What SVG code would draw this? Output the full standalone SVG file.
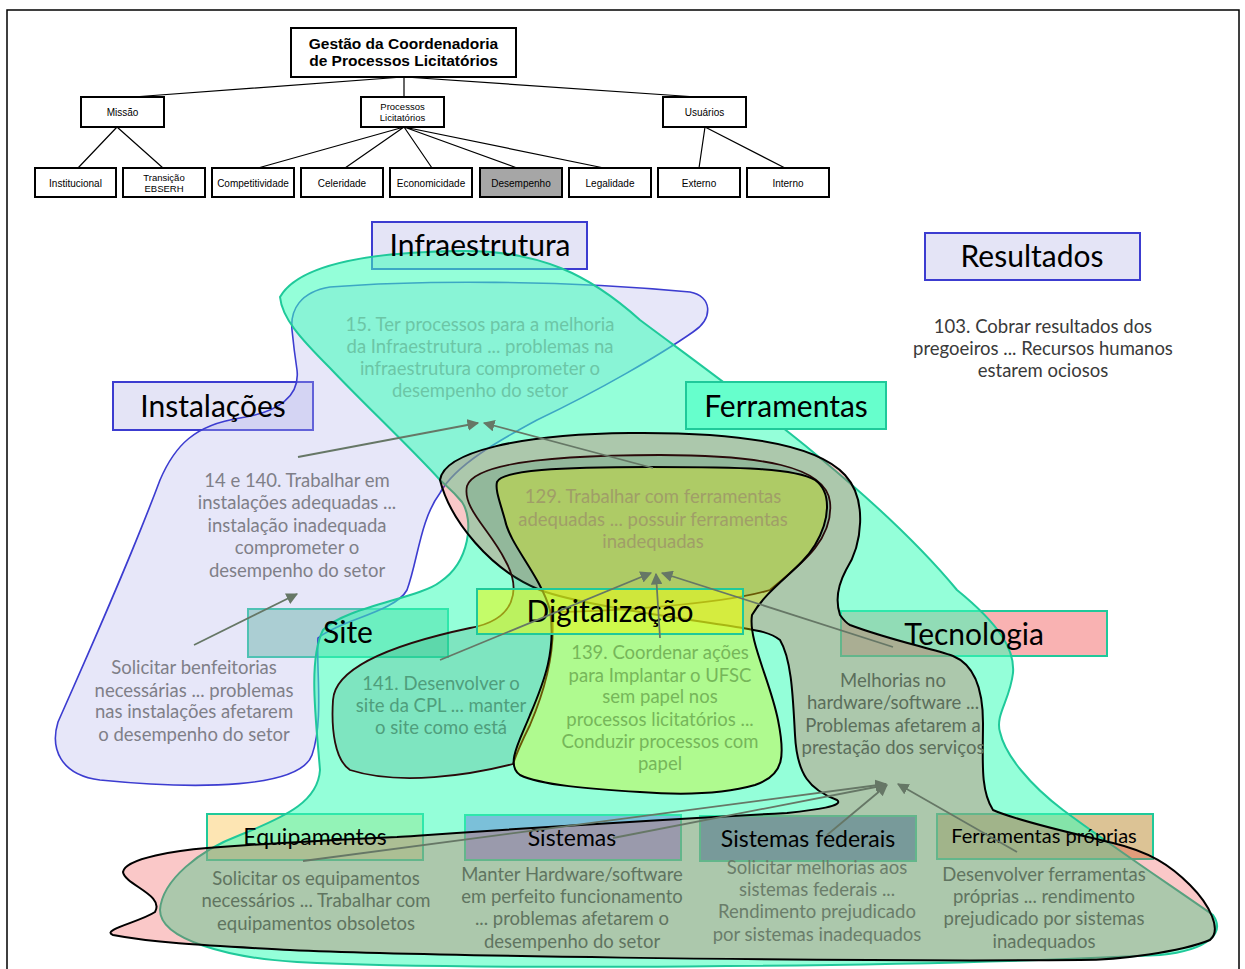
<svg xmlns="http://www.w3.org/2000/svg" width="1245" height="969" viewBox="0 0 1245 969">
<defs>
<style>
.frame{fill:none;stroke:#000;stroke-width:1.5}
.hb{fill:#fff;stroke:#000;stroke-width:2}
.hb.grey{fill:#a6a6a6}
.hl{stroke:#000;stroke-width:1.2;fill:none}
.ht{font-family:"Liberation Sans",Arial,sans-serif;font-size:10px;fill:#000;text-anchor:middle}
.ht2{font-family:"Liberation Sans",Arial,sans-serif;font-size:9.5px;fill:#000;text-anchor:middle}
.root{font-family:"Liberation Sans",Arial,sans-serif;font-size:15.5px;font-weight:bold;fill:#000;text-anchor:middle}
.lav{fill:#e4e4f6;stroke:#3c3cd0;stroke-width:2}
.tealbox{stroke:#1fc99a;stroke-width:2}
.lbl{font-family:Lato,"Open Sans",sans-serif;font-size:30px;fill:#000;text-anchor:middle}
.lbl2{font-family:Lato,"Open Sans",sans-serif;font-size:23px;fill:#000;text-anchor:middle}
.desc{font-family:Lato,"Open Sans",sans-serif;font-size:18.5px;text-anchor:middle}
.arr{stroke:#667766;stroke-width:1.8;fill:none;marker-end:url(#ah)}
</style>
<marker id="ah" viewBox="0 0 10 10" refX="9" refY="5" markerWidth="6.5" markerHeight="6.5" orient="auto">
<path d="M0,0 L10,5 L0,10 Z" fill="#667766"/>
</marker>
</defs>
<rect width="1245" height="969" fill="#fff"/>
<rect class="frame" x="7" y="10" width="1232" height="975"/>

<g id="hierarchy">
<g id="h-lines">
<path class="hl" d="M403,77 L133,97 M404,77 L404,97 M405,77 L697,97"/>
<path class="hl" d="M117,127 L78,168 M117,127 L163,168"/>
<path class="hl" d="M404,127 L258,168 M404,127 L345,168 M404,127 L432,168 M404,127 L517,168 M404,127 L604,168"/>
<path class="hl" d="M705,127 L699,168 M705,127 L785,168"/>
</g>
<g id="h-root"><rect class="hb" x="291" y="28" width="225" height="49"/><text class="root" x="403.5" y="49">Gestão da Coordenadoria</text><text class="root" x="403.5" y="66">de Processos Licitatórios</text></g>
<g id="h-missao"><rect class="hb" x="81" y="97" width="83" height="30"/><text class="ht" x="122.5" y="116">Missão</text></g>
<g id="h-processos"><rect class="hb" x="361" y="97" width="83" height="30"/><text class="ht2" x="402.5" y="110">Processos</text><text class="ht2" x="402.5" y="121">Licitatórios</text></g>
<g id="h-usuarios"><rect class="hb" x="663" y="97" width="83" height="30"/><text class="ht" x="704.5" y="116">Usuários</text></g>
<g id="h-institucional"><rect class="hb" x="35" y="168" width="81" height="29"/><text class="ht" x="75.5" y="186.5">Institucional</text></g>
<g id="h-transicao"><rect class="hb" x="123" y="168" width="82" height="29"/><text class="ht2" x="164" y="181">Transição</text><text class="ht2" x="164" y="192">EBSERH</text></g>
<g id="h-competitividade"><rect class="hb" x="212" y="168" width="82" height="29"/><text class="ht" x="253" y="186.5">Competitividade</text></g>
<g id="h-celeridade"><rect class="hb" x="301" y="168" width="82" height="29"/><text class="ht" x="342" y="186.5">Celeridade</text></g>
<g id="h-economicidade"><rect class="hb" x="390" y="168" width="82" height="29"/><text class="ht" x="431" y="186.5">Economicidade</text></g>
<g id="h-desempenho"><rect class="hb grey" x="480" y="168" width="82" height="29"/><text class="ht" x="521" y="186.5">Desempenho</text></g>
<g id="h-legalidade"><rect class="hb" x="569" y="168" width="82" height="29"/><text class="ht" x="610" y="186.5">Legalidade</text></g>
<g id="h-externo"><rect class="hb" x="658" y="168" width="82" height="29"/><text class="ht" x="699" y="186.5">Externo</text></g>
<g id="h-interno"><rect class="hb" x="747" y="168" width="82" height="29"/><text class="ht" x="788" y="186.5">Interno</text></g>
</g>

<!-- label boxes beneath the blobs -->
<g id="boxes">
<rect id="box-infraestrutura" class="lav" x="372" y="222" width="215" height="47"/>
<rect id="box-resultados" class="lav" x="925" y="233" width="215" height="47"/>
<rect id="box-instalacoes" class="lav" x="113" y="382" width="200" height="48"/>
<rect id="box-site" class="tealbox" fill="rgba(60,175,130,0.45)" x="248" y="609" width="200" height="48"/>
<rect id="box-tecnologia" class="tealbox" fill="#f9b2b2" x="841" y="611" width="266" height="45"/>
<rect id="box-equipamentos" class="tealbox" fill="#fde5b3" x="207" y="814" width="216" height="46"/>
<rect id="box-sistemas" class="tealbox" fill="#c873ff" x="465" y="815" width="216" height="45"/>
<rect id="box-sistemas-federais" class="tealbox" fill="#5d73c8" x="700" y="816" width="216" height="45"/>
<rect id="box-ferramentas-proprias" class="tealbox" fill="#dcc395" x="937" y="814" width="216" height="45"/>
</g>

<g id="groups">
<path id="g-lavender" fill="rgba(180,180,235,0.32)" stroke="#3c3cd0" stroke-width="1.6" d="M292,330 C290,310 300,292 330,287 C420,280 560,280 690,292 C712,296 714,318 693,332 C660,355 600,390 537,420 C500,440 455,465 440,493 C420,520 418,560 407,590 C395,612 340,620 318,638 C316,670 324,720 312,755 C300,788 200,790 100,780 C60,775 50,748 58,722 C90,650 130,560 160,480 C175,445 195,425 240,418 C280,412 300,395 297,370 C294,350 293,340 292,330 Z"/>
<path id="g-mint" fill="rgba(60,255,185,0.55)" stroke="#1fc99a" stroke-width="2" d="M280,297 C300,262 380,252 460,251 C540,250 590,275 640,320 C720,380 870,485 957,590 C1000,625 1015,650 1013,673 C1010,700 995,715 1000,732 C1005,755 1030,785 1063,810 C1110,845 1170,885 1213,915 C1225,932 1210,950 1160,955 C900,968 450,970 297,962 C230,958 160,940 160,910 C162,880 200,850 240,835 C290,815 318,800 320,770 C316,720 308,660 323,630 C345,607 420,598 440,582 C470,562 474,520 462,502 C452,490 445,485 440,480 C410,447 360,400 330,368 C300,338 282,318 280,297 Z"/>
<path id="g-pink" fill="rgba(237,59,59,0.28)" stroke="#000" stroke-width="2" d="M440,480 C444,452 520,434 630,433 C730,432 815,442 845,475 C868,500 862,545 846,570 C838,585 835,600 840,615 C845,622 848,624 850,625 C890,640 930,648 953,656 C975,665 983,690 983,723 C983,760 980,790 993,810 C1020,822 1080,835 1113,843 C1150,852 1170,865 1190,885 C1210,905 1222,930 1210,940 C1180,952 1120,960 1080,960 C800,962 400,955 290,950 C220,946 160,944 113,935 C100,930 140,922 155,912 C165,895 125,885 123,872 C125,858 180,850 207,848 C260,844 330,840 397,837 C500,830 600,823 787,813 C815,810 845,806 837,800 C810,790 797,775 795,735 C793,700 792,660 780,640 C770,632 755,630 743,628 C680,618 580,605 540,590 C490,570 450,520 440,480 Z"/>
<path id="g-site" fill="rgba(30,110,80,0.18)" stroke="#2a0a0a" stroke-width="1.8" d="M333,700 C335,668 390,645 470,628 C515,620 522,590 505,560 C490,530 462,508 467,486 C475,462 560,455 660,455 C760,455 826,466 830,502 C834,540 800,565 770,590 C720,605 600,612 552,612 C556,650 545,690 530,725 C520,745 515,758 513,764 C470,775 400,786 350,770 C335,760 331,730 333,700 Z"/>
<path id="g-digital" fill="rgba(230,240,0,0.34)" stroke="#000" stroke-width="2" d="M497,482 C502,470 560,467 650,467 C740,467 795,468 815,480 C832,492 830,520 815,545 C800,570 770,585 752,615 C748,640 770,680 778,720 C785,755 785,775 755,785 C720,795 680,795 640,792 C590,789 540,785 520,775 C505,765 520,740 530,715 C545,680 556,650 550,610 C540,575 510,545 505,520 C500,502 495,490 497,482 Z"/>
</g>

<!-- label boxes above the blobs -->
<g id="n-ferramentas"><rect class="tealbox" fill="#66ffcc" x="686" y="382" width="200" height="47"/><text class="lbl" x="786" y="417">Ferramentas</text></g>
<g id="n-digitalizacao"><rect class="tealbox" fill="rgba(228,250,30,0.6)" x="477" y="589" width="266" height="45"/><text class="lbl" x="610" y="622">Digitalização</text></g>

<g id="labels">
<text id="n-infraestrutura" class="lbl" x="480" y="256">Infraestrutura</text>
<text id="n-resultados" class="lbl" x="1032" y="267">Resultados</text>
<text id="n-instalacoes" class="lbl" x="213" y="417">Instalações</text>
<text id="n-site" class="lbl" x="348" y="643">Site</text>
<text id="n-tecnologia" class="lbl" x="974" y="645">Tecnologia</text>
<text id="n-equipamentos" class="lbl2" x="315" y="845">Equipamentos</text>
<text id="n-sistemas" class="lbl2" x="572" y="846">Sistemas</text>
<text id="n-sistemas-federais" class="lbl2" x="808" y="847">Sistemas federais</text>
<text id="n-ferramentas-proprias" class="lbl2" x="1044" y="843" style="font-size:20px">Ferramentas próprias</text>
</g>

<g id="connectors">
<line class="arr" x1="298" y1="457" x2="478" y2="423"/>
<line class="arr" x1="653" y1="468" x2="484" y2="423"/>
<line class="arr" x1="194" y1="645" x2="297" y2="594"/>
<line class="arr" x1="440" y1="660" x2="651" y2="573"/>
<line class="arr" x1="660" y1="638" x2="656" y2="574"/>
<line class="arr" x1="893" y1="647" x2="662" y2="573"/>
<line class="arr" x1="303" y1="861" x2="886" y2="784"/>
<line class="arr" x1="613" y1="838" x2="886" y2="785"/>
<line class="arr" x1="827" y1="835" x2="887" y2="785"/>
<line class="arr" x1="1017" y1="852" x2="898" y2="784"/>
</g>

<g id="descriptions">
<text class="desc" fill="#6cc6a6"><tspan x="480" y="331">15. Ter processos para a melhoria</tspan><tspan x="480" y="353">da Infraestrutura ... problemas na</tspan><tspan x="480" y="375">infraestrutura comprometer o</tspan><tspan x="480" y="397">desempenho do setor</tspan></text>
<text class="desc" fill="#7f7f88"><tspan x="297" y="487">14 e 140. Trabalhar em</tspan><tspan x="297" y="509">instalações adequadas ...</tspan><tspan x="297" y="532">instalação inadequada</tspan><tspan x="297" y="554">comprometer o</tspan><tspan x="297" y="577">desempenho do setor</tspan></text>
<text class="desc" fill="#7f7f88"><tspan x="194" y="674">Solicitar benfeitorias</tspan><tspan x="194" y="697">necessárias ... problemas</tspan><tspan x="194" y="718">nas instalações afetarem</tspan><tspan x="194" y="741">o desempenho do setor</tspan></text>
<text class="desc" fill="#a09e68"><tspan x="653" y="503">129. Trabalhar com ferramentas</tspan><tspan x="653" y="526">adequadas ... possuir ferramentas</tspan><tspan x="653" y="548">inadequadas</tspan></text>
<text class="desc" fill="#76b65a"><tspan x="660" y="659">139. Coordenar ações</tspan><tspan x="660" y="682">para Implantar o UFSC</tspan><tspan x="660" y="703">sem papel nos</tspan><tspan x="660" y="726">processos licitatórios ...</tspan><tspan x="660" y="748">Conduzir processos com</tspan><tspan x="660" y="770">papel</tspan></text>
<text class="desc" fill="#4f9e7c"><tspan x="441" y="690">141. Desenvolver  o</tspan><tspan x="441" y="712">site da CPL ... manter</tspan><tspan x="441" y="734">o site como está</tspan></text>
<text class="desc" fill="#5b6e5b"><tspan x="893" y="687">Melhorias no</tspan><tspan x="893" y="709">hardware/software ...</tspan><tspan x="893" y="732">Problemas afetarem a</tspan><tspan x="893" y="754">prestação dos serviços</tspan></text>
<text class="desc" fill="#3a3a3a"><tspan x="1043" y="333">103. Cobrar resultados dos</tspan><tspan x="1043" y="355">pregoeiros ... Recursos humanos</tspan><tspan x="1043" y="377">estarem ociosos</tspan></text>
<text class="desc" fill="#607460"><tspan x="316" y="885">Solicitar os equipamentos</tspan><tspan x="316" y="907">necessários ... Trabalhar com</tspan><tspan x="316" y="930">equipamentos obsoletos</tspan></text>
<text class="desc" fill="#607460"><tspan x="572" y="881">Manter Hardware/software</tspan><tspan x="572" y="903">em perfeito funcionamento</tspan><tspan x="572" y="925">... problemas afetarem o</tspan><tspan x="572" y="948">desempenho do setor</tspan></text>
<text class="desc" fill="#6a7d6a"><tspan x="817" y="874">Solicitar melhorias aos</tspan><tspan x="817" y="896">sistemas federais ...</tspan><tspan x="817" y="918">Rendimento prejudicado</tspan><tspan x="817" y="941">por sistemas inadequados</tspan></text>
<text class="desc" fill="#607460"><tspan x="1044" y="881">Desenvolver  ferramentas</tspan><tspan x="1044" y="903">próprias ... rendimento</tspan><tspan x="1044" y="925">prejudicado por sistemas</tspan><tspan x="1044" y="948">inadequados</tspan></text>
</g>
</svg>
